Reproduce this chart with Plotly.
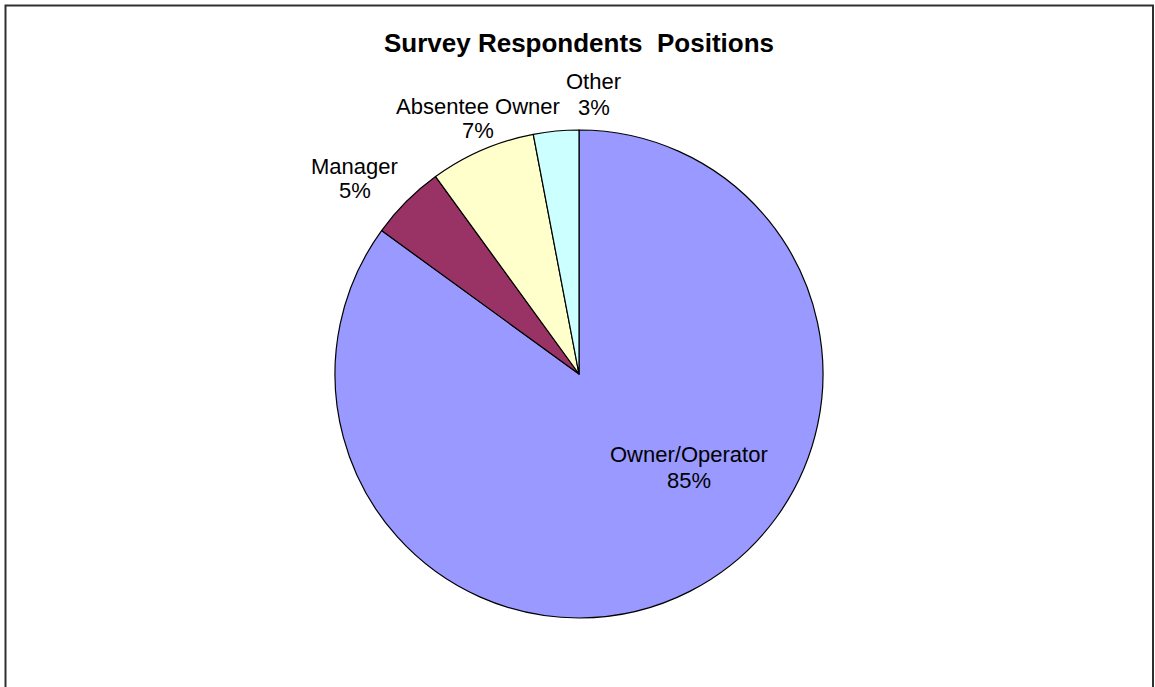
import plotly.graph_objects as go

# Survey respondent positions (percent of respondents)
positions = ["Owner/Operator", "Manager", "Absentee Owner", "Other"]
shares = [85, 5, 7, 3]
slice_colors = ["#9999FF", "#993366", "#FFFFCC", "#CCFFFF"]

W, H = 1155, 687
FONT = "Liberation Sans, Arial, Helvetica, sans-serif"

# label placement (pixel centre of the name line) for each slice
label_px = {
    "Owner/Operator": (689, 455),
    "Manager": (355, 166),
    "Absentee Owner": (478, 106),
    "Other": (594, 82),
}
LINE_GAP = 25

fig = go.Figure(
    go.Pie(
        labels=positions,
        values=shares,
        sort=False,
        direction="clockwise",
        rotation=0,
        marker=dict(colors=slice_colors, line=dict(color="black", width=1.2)),
        textinfo="none",
        showlegend=False,
        hoverinfo="label+percent",
        domain=dict(x=[335 / W, 823 / W], y=[1 - 618 / H, 1 - 130 / H]),
        automargin=False,
    )
)

annotations = []
for name, val in zip(positions, shares):
    px, py = label_px[name]
    for line, yy in ((name, py), (f"{val}%", py + LINE_GAP)):
        annotations.append(
            dict(
                text=line,
                x=px / W,
                y=1 - yy / H,
                xref="paper",
                yref="paper",
                xanchor="center",
                yanchor="middle",
                showarrow=False,
                font=dict(family=FONT, size=22, color="black"),
            )
        )

fig.update_layout(
    width=W,
    height=H,
    margin=dict(l=0, r=0, t=0, b=0),
    paper_bgcolor="white",
    plot_bgcolor="white",
    title=dict(
        text="<b>Survey Respondents  Positions</b>",
        x=579 / W,
        xanchor="center",
        y=1 - 43 / H,
        yanchor="middle",
        font=dict(family=FONT, size=26, color="black"),
    ),
    annotations=annotations,
    shapes=[
        dict(
            type="rect",
            xref="paper",
            yref="paper",
            x0=5.5 / W,
            x1=1153 / W,
            y0=-10 / H,
            y1=1 - 5.5 / H,
            line=dict(color="#303030", width=2),
            fillcolor="rgba(0,0,0,0)",
        )
    ],
)

fig.write_html("out.html")
